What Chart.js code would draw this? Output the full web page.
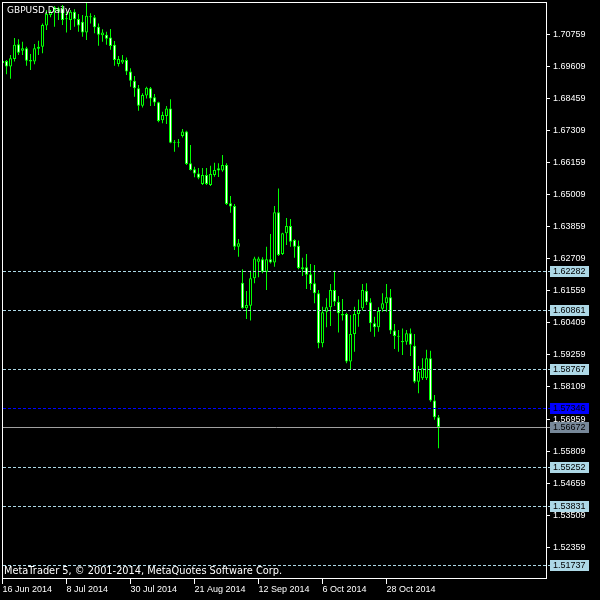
<!DOCTYPE html>
<html lang="en">
<head>
<meta charset="utf-8">
<title>GBPUSD,Daily</title>
<style>
    html, body { margin: 0; padding: 0; background: #000; }
    canvas { display: block; }
</style>
</head>
<body>
<canvas id="chart" width="600" height="600"></canvas>

<script src="https://cdn.jsdelivr.net/npm/chart.js"></script>
<script>
    // Daily bars, one per trading day starting 16 Jun 2014
    const opens = [
        1.6973, 1.6980, 1.6960, 1.6987, 1.7040, 1.7017, 1.7026, 1.6984, 1.6978, 1.7024,
        1.7031, 1.7107, 1.7145, 1.7173, 1.7157, 1.7169, 1.7133, 1.7127, 1.7157, 1.7131,
        1.7121, 1.7082, 1.7138, 1.7137, 1.7103, 1.7072, 1.7074, 1.7064, 1.7038, 1.6969,
        1.6975, 1.6984, 1.6942, 1.6909, 1.6882, 1.6820, 1.6856, 1.6882, 1.6850, 1.6832,
        1.6768, 1.6783, 1.6810, 1.6687, 1.6690, 1.6711, 1.6727, 1.6613, 1.6592, 1.6577,
        1.6539, 1.6571, 1.6535, 1.6571, 1.6595, 1.6587, 1.6607, 1.6470, 1.6460, 1.6314,
        1.6185, 1.6093, 1.6102, 1.6201, 1.6260, 1.6269, 1.6224, 1.6269, 1.6257, 1.6438,
        1.6288, 1.6362, 1.6388, 1.6338, 1.6317, 1.6233, 1.6240, 1.6215, 1.6183, 1.6147,
        1.5968, 1.6081, 1.6097, 1.6159, 1.6117, 1.6067, 1.6073, 1.5902, 1.6001, 1.6073,
        1.6093, 1.6156, 1.6115, 1.6039, 1.6025, 1.6091, 1.6111, 1.6133, 1.6013, 1.5994,
        1.5976, 1.5973, 1.6004, 1.5959, 1.5830, 1.5842, 1.5842, 1.5914, 1.5762, 1.5702
    ];
    const highs = [
        1.6987, 1.6984, 1.7002, 1.7063, 1.7058, 1.7049, 1.7031, 1.7005, 1.7041, 1.7053,
        1.7115, 1.7163, 1.7163, 1.7177, 1.7175, 1.7181, 1.7157, 1.7163, 1.7166, 1.7149,
        1.7145, 1.7189, 1.7151, 1.7145, 1.7115, 1.7094, 1.7085, 1.7095, 1.7052, 1.6998,
        1.7002, 1.6993, 1.6954, 1.6926, 1.6894, 1.6864, 1.6888, 1.6887, 1.6862, 1.6834,
        1.6798, 1.6819, 1.6843, 1.6697, 1.6700, 1.6736, 1.6730, 1.6679, 1.6601, 1.6596,
        1.6596, 1.6596, 1.6604, 1.6615, 1.6613, 1.6643, 1.6613, 1.6496, 1.6467, 1.6342,
        1.6233, 1.6155, 1.6228, 1.6278, 1.6278, 1.6276, 1.6314, 1.6360, 1.6460, 1.6523,
        1.6364, 1.6417, 1.6413, 1.6341, 1.6336, 1.6274, 1.6288, 1.6252, 1.6248, 1.6159,
        1.6099, 1.6129, 1.6180, 1.6228, 1.6137, 1.6126, 1.6077, 1.6069, 1.6099, 1.6125,
        1.6180, 1.6183, 1.6129, 1.6063, 1.6097, 1.6147, 1.6180, 1.6162, 1.6037, 1.6015,
        1.6021, 1.6015, 1.6021, 1.6001, 1.5886, 1.5914, 1.5944, 1.5941, 1.5782, 1.5710
    ];
    const lows = [
        1.6969, 1.6933, 1.6916, 1.6978, 1.7002, 1.7002, 1.6963, 1.6948, 1.6968, 1.7002,
        1.7008, 1.7091, 1.7137, 1.7103, 1.7127, 1.7109, 1.7082, 1.7091, 1.7103, 1.7085,
        1.7067, 1.7055, 1.7115, 1.7080, 1.7035, 1.7049, 1.7038, 1.7020, 1.6963, 1.6960,
        1.6969, 1.6930, 1.6888, 1.6852, 1.6802, 1.6813, 1.6846, 1.6819, 1.6819, 1.6760,
        1.6757, 1.6754, 1.6685, 1.6655, 1.6671, 1.6706, 1.6607, 1.6587, 1.6563, 1.6556,
        1.6535, 1.6535, 1.6532, 1.6565, 1.6564, 1.6583, 1.6464, 1.6436, 1.6302, 1.6278,
        1.6091, 1.6055, 1.6049, 1.6183, 1.6204, 1.6219, 1.6159, 1.6254, 1.6242, 1.6281,
        1.6284, 1.6320, 1.6314, 1.6274, 1.6233, 1.6209, 1.6162, 1.6159, 1.6111, 1.5950,
        1.5953, 1.6025, 1.6030, 1.6101, 1.6006, 1.6049, 1.5896, 1.5872, 1.5937, 1.6027,
        1.6085, 1.6105, 1.6009, 1.5991, 1.6009, 1.6081, 1.6081, 1.6001, 1.5947, 1.5937,
        1.5926, 1.5962, 1.5922, 1.5824, 1.5788, 1.5836, 1.5836, 1.5758, 1.5693, 1.5591
    ];
    const closes = [
        1.6980, 1.6960, 1.6990, 1.7038, 1.7010, 1.7026, 1.6981, 1.6978, 1.7026, 1.7031,
        1.7109, 1.7149, 1.7157, 1.7163, 1.7169, 1.7127, 1.7130, 1.7157, 1.7130, 1.7107,
        1.7082, 1.7142, 1.7137, 1.7101, 1.7074, 1.7082, 1.7060, 1.7034, 1.6984, 1.6987,
        1.6985, 1.6942, 1.6909, 1.6882, 1.6820, 1.6858, 1.6884, 1.6846, 1.6831, 1.6765,
        1.6786, 1.6810, 1.6687, 1.6690, 1.6687, 1.6727, 1.6611, 1.6589, 1.6577, 1.6561,
        1.6571, 1.6539, 1.6575, 1.6589, 1.6587, 1.6607, 1.6467, 1.6458, 1.6314, 1.6326,
        1.6093, 1.6105, 1.6201, 1.6272, 1.6272, 1.6224, 1.6269, 1.6257, 1.6438, 1.6284,
        1.6362, 1.6388, 1.6332, 1.6314, 1.6238, 1.6240, 1.6213, 1.6180, 1.6147, 1.5968,
        1.6079, 1.6097, 1.6159, 1.6117, 1.6075, 1.6073, 1.5902, 1.6001, 1.6073, 1.6087,
        1.6159, 1.6115, 1.6039, 1.6025, 1.6083, 1.6111, 1.6133, 1.6013, 1.5994, 1.5991,
        1.5971, 1.6004, 1.5962, 1.5830, 1.5866, 1.5878, 1.5914, 1.5762, 1.5702, 1.5667
    ];

    // time axis labels and the bar they sit on
    const dateLabels = ['16 Jun 2014', '8 Jul 2014', '30 Jul 2014', '21 Aug 2014', '12 Sep 2014', '6 Oct 2014', '28 Oct 2014'];
    const dateBars = [0, 16, 32, 48, 64, 80, 96];

    // price scale labels
    const priceTicks = [
        1.70759, 1.69609, 1.68459, 1.67309, 1.66159, 1.65009, 1.63859, 1.62709, 1.61559,
        1.60409, 1.59259, 1.58109, 1.56959, 1.55809, 1.54659, 1.53509, 1.52359
    ];

    // horizontal lines
    const levelLines = [1.62282, 1.60861, 1.58767, 1.55252, 1.53831, 1.51737];
    const blueLine = 1.57346;
    const bidLine = 1.56672;

    const axisFont = { family: '"Liberation Sans", Arial, sans-serif', size: 9 };

    const bodies = opens.map((o, i) => ({ x: i, y: [o, closes[i]] }));
    const wicks = lows.map((l, i) => ({ x: i, y: [l, highs[i]] }));
    // bear candles white, bull candles hollow
    const bodyFill = opens.map((o, i) => closes[i] < o ? '#ffffff' : '#000000');

    /**
     * MetaTrader look: background, level lines, frame, captions and price tags
     */
    const mtOverlay = {
        id: 'mtOverlay',
        beforeDraw(chart) {
            const c = chart.ctx;
            c.save();
            c.fillStyle = '#000';
            c.fillRect(0, 0, chart.width, chart.height);
            c.restore();
        },
        afterDatasetsDraw(chart) {
            const c = chart.ctx, a = chart.chartArea, ys = chart.scales.y;
            c.save();
            c.lineWidth = 1;
            const hline = (price, color, dash) => {
                const py = Math.round(ys.getPixelForValue(price)) + 0.5;
                c.strokeStyle = color;
                c.setLineDash(dash);
                c.beginPath();
                c.moveTo(a.left + 1, py);
                c.lineTo(a.right + 4, py);
                c.stroke();
            };
            levelLines.forEach(p => hline(p, '#add8e6', [3, 2]));
            hline(blueLine, '#0000ff', [3, 2]);
            hline(bidLine, '#a0a0a0', []);
            c.restore();
        },
        afterDraw(chart) {
            const c = chart.ctx, a = chart.chartArea, ys = chart.scales.y;
            c.save();
            // frame
            c.strokeStyle = '#ffffff';
            c.lineWidth = 1;
            c.strokeRect(a.left + 0.5, a.top + 0.5, a.right - a.left, a.bottom - a.top);

            // captions
            c.fillStyle = '#ffffff';
            c.textBaseline = 'alphabetic';
            c.font = '9px "DejaVu Sans", sans-serif';
            c.fillText('GBPUSD,Daily', 7, 12.5);
            c.font = '9.8px "DejaVu Sans", sans-serif';
            c.fillText('MetaTrader 5, \u00a9 2001-2014, MetaQuotes Software Corp.', 4, 574);

            // price tags on the right scale
            c.font = '9px "Liberation Sans", Arial, sans-serif';
            c.textBaseline = 'middle';
            const tag = (price, fill) => {
                const py = Math.round(ys.getPixelForValue(price));
                c.fillStyle = fill;
                c.fillRect(a.right + 4, py - 5, 39, 11);
                c.fillStyle = '#000000';
                c.fillText(price.toFixed(5), a.right + 7, py + 0.5);
            };
            levelLines.forEach(p => tag(p, '#add8e6'));
            tag(blueLine, '#0000ff');
            tag(bidLine, '#778899');
            c.restore();
        }
    };

    const ctx = document.getElementById('chart');
    const chart = new Chart(ctx, {
        type: 'bar',
        data: {
            datasets: [{
                label: 'body',
                data: bodies,
                backgroundColor: bodyFill,
                borderColor: '#00ff00',
                borderWidth: 1,
                borderSkipped: false,
                barThickness: 3,
                maxBarThickness: 3,
                minBarLength: 1,
                grouped: false,
                inflateAmount: 0,
                clip: 0
            }, {
                label: 'wick',
                data: wicks,
                backgroundColor: '#00ff00',
                borderWidth: 0,
                barThickness: 1,
                maxBarThickness: 1,
                grouped: false,
                inflateAmount: 0,
                clip: 0
            }]
        },
        options: {
            responsive: false,
            animation: false,
            devicePixelRatio: 1,
            layout: { padding: { left: 2, top: 2, right: 0, bottom: 0 } },
            plugins: {
                legend: { display: false },
                tooltip: { enabled: false }
            },
            scales: {
                x: {
                    type: 'linear',
                    offset: false,
                    min: -0.125,
                    max: 135.875,
                    afterBuildTicks: s => { s.ticks = dateBars.map(v => ({ value: v })); },
                    afterFit: s => { s.height = 22; s.paddingLeft = 0; s.paddingRight = 0; },
                    ticks: {
                        callback: (v, i) => dateLabels[i],
                        color: '#ffffff',
                        font: axisFont,
                        align: 'start',
                        autoSkip: false,
                        maxRotation: 0,
                        padding: 0
                    },
                    grid: { offset: false, drawOnChartArea: false, tickLength: 6, color: '#ffffff' },
                    border: { display: false }
                },
                y: {
                    type: 'linear',
                    position: 'right',
                    min: 1.51257,
                    max: 1.71917,
                    afterBuildTicks: s => { s.ticks = priceTicks.map(v => ({ value: v })); },
                    afterFit: s => { s.width = 54; s.paddingTop = 0; s.paddingBottom = 0; },
                    ticks: {
                        callback: v => v.toFixed(5),
                        color: '#ffffff',
                        font: axisFont,
                        autoSkip: false,
                        padding: 3
                    },
                    grid: { drawOnChartArea: false, tickLength: 4, color: '#ffffff' },
                    border: { display: false }
                }
            }
        },
        plugins: [mtOverlay]
    });
</script>
</body>
</html>
